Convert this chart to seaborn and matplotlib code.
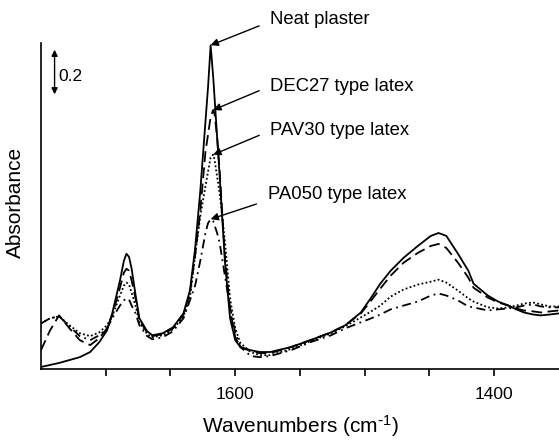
import numpy as np
import matplotlib
matplotlib.use("Agg")
import matplotlib.pyplot as plt
import seaborn as sns

# FTIR spectra (absorbance, arbitrary offset)
wavenumbers = [1750, 1743, 1736, 1728, 1720, 1712, 1705, 1699, 1695, 1689,
               1686, 1684, 1682, 1680, 1677, 1674, 1668, 1664, 1656, 1648,
               1640, 1635, 1631, 1627, 1623, 1621, 1619, 1617, 1616, 1614,
               1612, 1608, 1604, 1600, 1596, 1588, 1581, 1573, 1557, 1542,
               1526, 1515, 1503, 1495, 1488, 1480, 1470, 1459, 1449, 1443,
               1437, 1428, 1420, 1416, 1405, 1397, 1389, 1383, 1377, 1370,
               1364, 1357, 1350]

neat_plaster = [0.009, 0.018, 0.027, 0.040, 0.053, 0.076, 0.120, 0.173, 0.249, 0.396,
                0.484, 0.516, 0.502, 0.449, 0.333, 0.227, 0.169, 0.151, 0.160, 0.187,
                0.249, 0.351, 0.538, 0.796, 1.107, 1.262, 1.450, 1.307, 1.218, 1.040,
                0.862, 0.484, 0.227, 0.129, 0.098, 0.084, 0.076, 0.076, 0.098, 0.129,
                0.164, 0.196, 0.253, 0.320, 0.382, 0.440, 0.498, 0.551, 0.596, 0.609,
                0.596, 0.516, 0.440, 0.382, 0.329, 0.302, 0.284, 0.267, 0.253, 0.244,
                0.240, 0.244, 0.249]

dec27_latex = [0.084, 0.173, 0.240, 0.182, 0.129, 0.107, 0.138, 0.182, 0.240, 0.364,
               0.431, 0.449, 0.440, 0.396, 0.316, 0.218, 0.164, 0.147, 0.156, 0.182,
               0.244, 0.338, 0.507, 0.707, 0.973, 1.049, 1.129, 1.160, 1.142, 1.040,
               0.884, 0.507, 0.267, 0.142, 0.098, 0.080, 0.071, 0.071, 0.098, 0.129,
               0.164, 0.196, 0.249, 0.307, 0.360, 0.418, 0.476, 0.520, 0.551, 0.560,
               0.542, 0.476, 0.409, 0.364, 0.320, 0.298, 0.284, 0.271, 0.262, 0.258,
               0.253, 0.258, 0.262]

pav30_latex = [0.204, 0.227, 0.236, 0.196, 0.160, 0.147, 0.164, 0.196, 0.236, 0.329,
               0.373, 0.387, 0.378, 0.342, 0.284, 0.209, 0.156, 0.142, 0.151, 0.178,
               0.236, 0.320, 0.507, 0.684, 0.818, 0.884, 0.947, 0.960, 0.938, 0.862,
               0.787, 0.573, 0.316, 0.182, 0.116, 0.076, 0.062, 0.062, 0.089, 0.124,
               0.160, 0.191, 0.231, 0.258, 0.284, 0.324, 0.356, 0.378, 0.391, 0.400,
               0.387, 0.351, 0.316, 0.302, 0.276, 0.271, 0.276, 0.284, 0.293, 0.298,
               0.289, 0.280, 0.280]

pa050_latex = [0.204, 0.227, 0.236, 0.191, 0.147, 0.129, 0.151, 0.182, 0.227, 0.284,
               0.307, 0.316, 0.311, 0.284, 0.249, 0.196, 0.147, 0.133, 0.142, 0.169,
               0.227, 0.307, 0.373, 0.484, 0.609, 0.653, 0.671, 0.662, 0.644, 0.609,
               0.564, 0.418, 0.276, 0.164, 0.098, 0.058, 0.053, 0.058, 0.084, 0.120,
               0.151, 0.182, 0.209, 0.227, 0.244, 0.267, 0.284, 0.302, 0.329, 0.338,
               0.329, 0.307, 0.280, 0.276, 0.262, 0.267, 0.271, 0.276, 0.284, 0.289,
               0.280, 0.276, 0.276]

labels = ["Neat plaster", "DEC27 type latex", "PAV30 type latex", "PA050 type latex"]
major_ticks = [1700, 1650, 1600, 1550, 1500, 1450, 1400]
tick_labels = ["", "", "1600", "", "", "", "1400"]

sns.set_theme(style="ticks")
plt.rcParams["font.family"] = ["Liberation Sans", "DejaVu Sans"]
plt.rcParams["mathtext.default"] = "regular"

fig = plt.figure(figsize=(5.59, 4.40), dpi=100)
ax = fig.add_axes([0.0733, 0.1614, 0.9267, 0.7409])

series = [neat_plaster, dec27_latex, pav30_latex, pa050_latex]
line_styles = ["-", (0, (6, 3)), (0, (1, 1.3)), (0, (5, 2.5, 1, 2.5))]

for values, ls in zip(series, line_styles):
    sns.lineplot(x=wavenumbers, y=values, ax=ax, color="black",
                 linestyle=ls, linewidth=1.3, sort=False)

ax.set_xlim(1750, 1350)
ax.set_ylim(0, 1.46)
ax.set_xticks(major_ticks)
ax.set_xticklabels(tick_labels)
ax.set_yticks([])
ax.tick_params(axis="x", direction="out", length=5, width=1.2, pad=8,
               labelsize=12.5, colors="black")
for side in ["top", "right"]:
    ax.spines[side].set_visible(False)
for side in ["left", "bottom"]:
    ax.spines[side].set_color("black")
    ax.spines[side].set_linewidth(1.2)

ax.set_xlabel("Wavenumbers (cm$^{\\text{-}1}$)", fontsize=15, labelpad=8, color="black")
ax.set_ylabel("Absorbance", fontsize=15, color="black")
ax.yaxis.set_label_coords(-0.031, 0.51)

# Arrows pointing at the main peak of each spectrum
text_pos = [(1573, 1.564), (1573, 1.267), (1573, 1.067), (1575, 0.782)]
tail_rel = [0.4, 0.5, 0.5, 0.15]
for values, label, (tx, ty), rel in zip(series, labels, text_pos, tail_rel):
    i = int(np.argmax(values))
    ax.annotate(label, xy=(wavenumbers[i], values[i]), xytext=(tx, ty),
                ha="left", va="center", fontsize=13.3, color="black",
                annotation_clip=False,
                arrowprops=dict(arrowstyle="-|>", color="black", lw=1.0,
                                mutation_scale=11, relpos=(0, rel),
                                shrinkA=6, shrinkB=0))

# Scale bar for absorbance
ax.annotate("", xy=(1739.5, 1.43), xytext=(1739.5, 1.23),
            arrowprops=dict(arrowstyle="<|-|>", color="black", lw=1.0,
                            mutation_scale=9, shrinkA=0, shrinkB=0))
ax.text(1736.4, 1.311, "0.2", ha="left", va="center", fontsize=12.5, color="black")

fig.savefig("out.png", dpi=100)
